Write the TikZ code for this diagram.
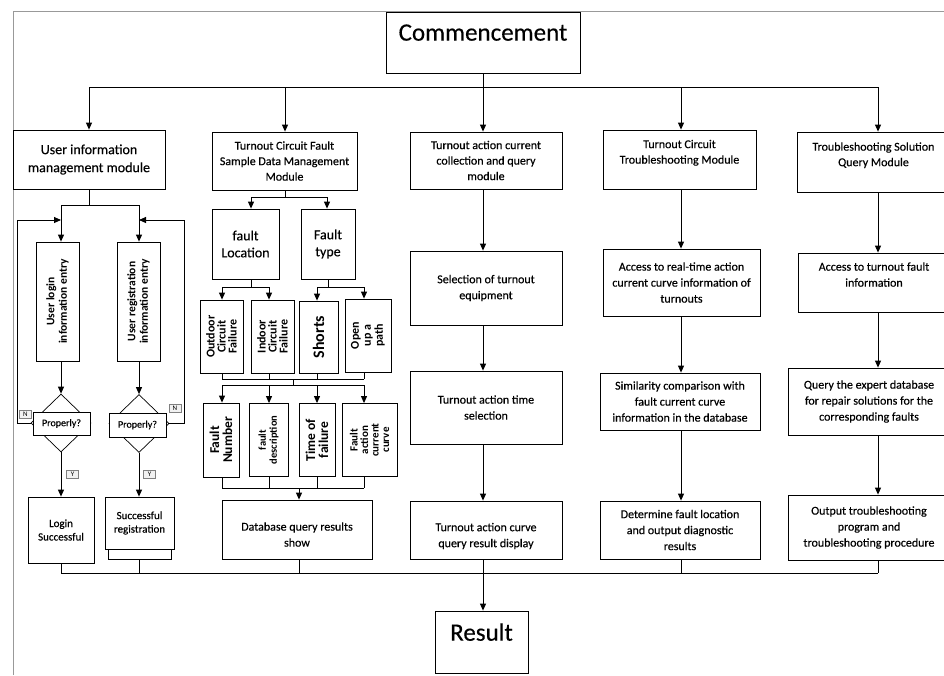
\documentclass[tikz,border=0pt]{standalone}
\usepackage{fontspec}
\setmainfont{Carlito}
\newfontfamily\medfont{Carlito}[FakeBold=0.35]
\usetikzlibrary{arrows.meta,shapes.geometric}
\tikzset{
  base/.style={draw, line width=0.8pt, align=center, inner sep=1pt, fill=white},
  mbox/.style={base, font=\medfont\fontsize{12}{15.5}\selectfont},
  tbox/.style={base, font=\medfont\fontsize{12}{16}\selectfont},
  txt/.style={align=center, inner sep=0pt, font=\medfont\fontsize{12}{16}\selectfont},
  vbox/.style={base, rotate=90, font=\bfseries\fontsize{11.5}{12.5}\selectfont},
  arr/.style={line width=0.9pt, -{Triangle[length=7pt,width=6pt]}},
  ln/.style={line width=0.9pt},
  tag/.style={draw=gray, line width=0.5pt, fill=gray!10, inner sep=0pt,
    font=\fontsize{7}{7}\selectfont, minimum width=12pt, minimum height=8pt},
  framel/.style={draw=gray!80, line width=1pt},
  dia/.style={draw, diamond, line width=0.7pt, inner sep=0pt, minimum width=60pt, minimum height=58pt},
  qbox/.style={base, line width=0.7pt, font=\medfont\fontsize{10}{12}\selectfont}
}
\begin{document}
\begin{tikzpicture}[x=1pt,y=-1pt]
\useasboundingbox (0,0) rectangle (944,675);
\clip (0,0) rectangle (944,675);
\fill[white] (0,0) rectangle (944,675);

% frame
\coordinate (fr1) at (13,675);
\coordinate (fr2) at (13,11);
\coordinate (fr3) at (950,11);
\draw[framel] (fr1) -- (fr2) -- (fr3);

% start
\node[base, font=\medfont\fontsize{25}{20}\selectfont, minimum width=194pt, minimum height=61pt] (com) at (483,42.5) {Commencement\\\mbox{}};

% top bus
\coordinate (tb1) at (89,87);
\coordinate (tb2) at (285,87);
\coordinate (tb3) at (483,87);
\coordinate (tb4) at (681,87);
\coordinate (tb5) at (878,87);

% modules
\node[base, font=\medfont\fontsize{14}{18}\selectfont, minimum width=152pt, minimum height=59pt] (m1) at (89,159.5) {User information\\management module};
\node[mbox, minimum width=145pt, minimum height=58pt] (m2) at (284.5,161) {Turnout Circuit Fault\\Sample Data Management\\Module};
\node[mbox, minimum width=152pt, minimum height=57pt] (m3) at (486,160.5) {Turnout action current\\collection and query\\module};
\node[mbox, minimum width=153pt, minimum height=59pt] (m4) at (679.5,159.5) {Turnout Circuit\\Troubleshooting Module\\\mbox{}};
\node[mbox, minimum width=153pt, minimum height=60pt] (m5) at (873.5,162) {Troubleshooting Solution\\Query Module\\\mbox{}};

\draw[ln] (com.south) -- (tb3);
\draw[ln] (tb1) -- (tb5);
\draw[arr] (tb1) -- (tb1 |- m1.north);
\draw[arr] (tb2) -- (tb2 |- m2.north);
\draw[arr] (tb3) -- (tb3 |- m3.north);
\draw[arr] (tb4) -- (tb4 |- m4.north);
\draw[arr] (tb5) -- (tb5 |- m5.north);

% ---------- column 1 ----------
\coordinate (j1) at (89,205);
\coordinate (j1L) at (61,205);
\coordinate (j1R) at (139,205);
\node[vbox, minimum width=119pt, minimum height=43pt] (login) at (57.5,301.5) {User login\\information entry};
\node[vbox, minimum width=119pt, minimum height=43pt] (reg) at (138.5,301.5) {User registration\\information entry};
\draw[ln] (m1.south) -- (j1);
\draw[ln] (j1L) -- (j1R);
\draw[arr] (j1L) -- (j1L |- login.east);
\draw[arr] (j1R) -- (j1R |- reg.east);

\node[dia] (d1) at (61,423) {};
\node[dia] (d2) at (139,423.5) {};
\node[qbox, minimum width=57pt, minimum height=23pt] (p1) at (61.5,423.5) {Properly?};
\node[qbox, minimum width=57pt, minimum height=24pt] (p2) at (137.5,425) {Properly?};
\draw[arr] (login.west -| j1L) -- (d1.north);
\draw[arr] (reg.west -| j1R) -- (d2.north);

\coordinate (fbL) at (17,220);
\coordinate (fbR) at (184,220);
\draw[arr] (d1.west) -| (fbL) -- (fbL -| j1L);
\draw[arr] (d2.east) -| (fbR) -- (fbR -| j1R);

\node[tag] (n1) at (25.5,414.5) {N};
\node[tag] (n2) at (175,408) {N};
\node[tag] (y1) at (72.5,474.5) {Y};
\node[tag] (y2) at (149.5,474.5) {Y};

\node[base, minimum width=63pt, minimum height=62pt] (sr2) at (139.5,528) {};
\node[base, font=\medfont\fontsize{11}{13.5}\selectfont, minimum width=66pt, minimum height=66pt] (ls) at (61,530) {Login\\Successful};
\node[base, font=\medfont\fontsize{11}{13.5}\selectfont, minimum width=69pt, minimum height=52pt] (sr) at (139.5,523) {Successful\\registration};
\draw[arr] (d1.south) -- (ls.north);
\draw[arr] (d2.south) -- (d2.south |- sr.north);

% ---------- column 2 ----------
\coordinate (j2) at (285,197);
\coordinate (j2L) at (251,197);
\coordinate (j2R) at (327,197);
\node[base, font=\medfont\fontsize{14}{17}\selectfont, minimum width=67pt, minimum height=70pt] (floc) at (245.5,244) {fault\\Location};
\node[base, font=\medfont\fontsize{14}{17}\selectfont, minimum width=54pt, minimum height=70pt] (ftype) at (328,244) {Fault\\type};
\draw[ln] (m2.south -| j2) -- (j2);
\draw[ln] (j2L) -- (j2R);
\draw[arr] (j2L) -- (j2L |- floc.north);
\draw[arr] (j2R) -- (j2R |- ftype.north);

\coordinate (j3) at (251,287);
\coordinate (j3L) at (222,287);
\coordinate (j3R) at (269,287);
\coordinate (j4) at (328,287);
\coordinate (j4L) at (317,287);
\coordinate (j4R) at (364,287);
\node[vbox, font=\bfseries\fontsize{12}{11}\selectfont, minimum width=73pt, minimum height=43pt] (outd) at (221.5,336.5) {Outdoor\\Circuit\\Failure};
\node[vbox, font=\bfseries\fontsize{12}{11}\selectfont, minimum width=73pt, minimum height=43pt] (ind) at (272.5,336.5) {Indoor\\Circuit\\Failure};
\node[vbox, font=\bfseries\fontsize{16}{16}\selectfont, minimum width=72pt, minimum height=39pt] (sho) at (318.5,337) {Shorts};
\node[vbox, font=\bfseries\fontsize{12}{12}\selectfont, minimum width=73pt, minimum height=46pt] (opn) at (368,335.5) {Open\\up a\\path};
\draw[ln] (floc.south -| j3) -- (j3);
\draw[ln] (j3L) -- (j3R);
\draw[ln] (ftype.south -| j4) -- (j4);
\draw[ln] (j4L) -- (j4R);
\draw[arr] (j3L) -- (j3L |- outd.east);
\draw[arr] (j3R) -- (j3R |- ind.east);
\draw[arr] (j4L) -- (j4L |- sho.east);
\draw[arr] (j4R) -- (j4R |- opn.east);

\coordinate (k1) at (222,379);
\coordinate (k2) at (269,379);
\coordinate (k3) at (317,379);
\coordinate (k4) at (364,379);
\coordinate (k0) at (293,379);
\coordinate (q0) at (293,385);
\coordinate (q1) at (222,385);
\coordinate (q2) at (269,385);
\coordinate (q3) at (317,385);
\coordinate (q4) at (364,385);
\draw[ln] (outd.west -| k1) -- (k1);
\draw[ln] (ind.west -| k2) -- (k2);
\draw[ln] (sho.west -| k3) -- (k3);
\draw[ln] (opn.west -| k4) -- (k4);
\draw[ln] (k1) -- (k4);
\draw[ln] (k0) -- (q0);
\draw[ln] (q1) -- (q4);

\node[vbox, font=\bfseries\fontsize{13.5}{13}\selectfont, minimum width=74pt, minimum height=36pt] (fnum) at (221,440) {Fault\\Number};
\node[vbox, font=\bfseries\fontsize{10.5}{11}\selectfont, minimum width=73pt, minimum height=39pt] (fdesc) at (268.5,440) {fault\\description};
\node[vbox, font=\bfseries\fontsize{13.5}{13}\selectfont, minimum width=73pt, minimum height=36pt] (ftime) at (317,440) {Time of\\failure};
\node[vbox, font=\bfseries\fontsize{11}{10.5}\selectfont, minimum width=73pt, minimum height=55pt] (fcur) at (369.5,440) {Fault\\action\\current\\curve};
\draw[arr] (q1) -- (q1 |- fnum.east);
\draw[arr] (q2) -- (q2 |- fdesc.east);
\draw[arr] (q3) -- (q3 |- ftime.east);
\draw[arr] (q4) -- (q4 |- fcur.east);

\coordinate (r1) at (222,488);
\coordinate (r2) at (269,488);
\coordinate (r3) at (317,488);
\coordinate (r4) at (364,488);
\coordinate (r0) at (299,488);
\draw[ln] (fnum.west -| r1) -- (r1);
\draw[ln] (fdesc.west -| r2) -- (r2);
\draw[ln] (ftime.west -| r3) -- (r3);
\draw[ln] (fcur.west -| r4) -- (r4);
\draw[ln] (r1) -- (r4);

\node[tbox, minimum width=150pt, minimum height=59pt] (db) at (297,529.5) {};
\node[txt] (dbt) at ([yshift=-5pt]db.center) {Database query results\\show};
\draw[arr] (r0) -- (r0 |- db.north);

% ---------- column 3 ----------
\node[tbox, minimum width=152pt, minimum height=74pt] (sel) at (486,288) {Selection of turnout\\equipment};
\node[tbox, minimum width=152pt, minimum height=73pt] (tim) at (486,407.5) {Turnout action time\\selection};
\node[tbox, minimum width=152pt, minimum height=58pt] (cur) at (486,530) {};
\node[txt] (curt) at ([yshift=-6pt]cur.center) {Turnout action curve\\query result display};
\draw[arr] (m3.south -| tb3) -- (sel.north -| tb3);
\draw[arr] (sel.south -| tb3) -- (tim.north -| tb3);
\draw[arr] (tim.south -| tb3) -- (cur.north -| tb3);

% ---------- column 4 ----------
\node[tbox, minimum width=157pt, minimum height=67pt] (acc) at (681.5,282.5) {Access to real-time action\\current curve information of\\turnouts};
\node[tbox, minimum width=160pt, minimum height=57pt] (sim) at (680,401.5) {Similarity comparison with\\fault current curve\\information in the database};
\node[tbox, minimum width=160pt, minimum height=58pt] (det) at (680,530) {Determine fault location\\and output diagnostic\\results};
\draw[arr] (m4.south -| tb4) -- (acc.north -| tb4);
\draw[arr] (acc.south -| tb4) -- (sim.north -| tb4);
\draw[arr] (sim.south -| tb4) -- (det.north -| tb4);

% ---------- column 5 ----------
\node[tbox, minimum width=152pt, minimum height=59pt] (acf) at (874,282.5) {Access to turnout fault\\information\\\mbox{}};
\node[tbox, minimum width=162pt, minimum height=67pt] (qry) at (869,401.5) {Query the expert database\\for repair solutions for the\\corresponding faults};
\node[tbox, minimum width=162pt, minimum height=65pt] (outp) at (869,527.5) {Output troubleshooting\\program and\\troubleshooting procedure};
\draw[arr] (m5.south -| tb5) -- (acf.north -| tb5);
\draw[arr] (acf.south -| tb5) -- (qry.north -| tb5);
\draw[arr] (qry.south -| tb5) -- (outp.north -| tb5);

% ---------- bottom ----------
\coordinate (bb1) at (61,573);
\coordinate (bb5) at (878,573);
\node[base, font=\medfont\fontsize{25}{20}\selectfont, minimum width=93pt, minimum height=62pt] (res) at (481.5,642) {Result\\\mbox{}};
\draw[ln] (bb1) -- (bb5);
\draw[ln] (ls.south) -- (bb1);
\draw[ln] (sr2.south) -- (sr2.south |- bb1);
\draw[ln] (db.south -| r0) -- (r0 |- bb1);
\draw[ln] (det.south -| tb4) -- (tb4 |- bb1);
\draw[ln] (outp.south -| tb5) -- (tb5 |- bb1);
\draw[arr] (cur.south -| tb3) -- (res.north -| tb3);
\end{tikzpicture}
\end{document}
